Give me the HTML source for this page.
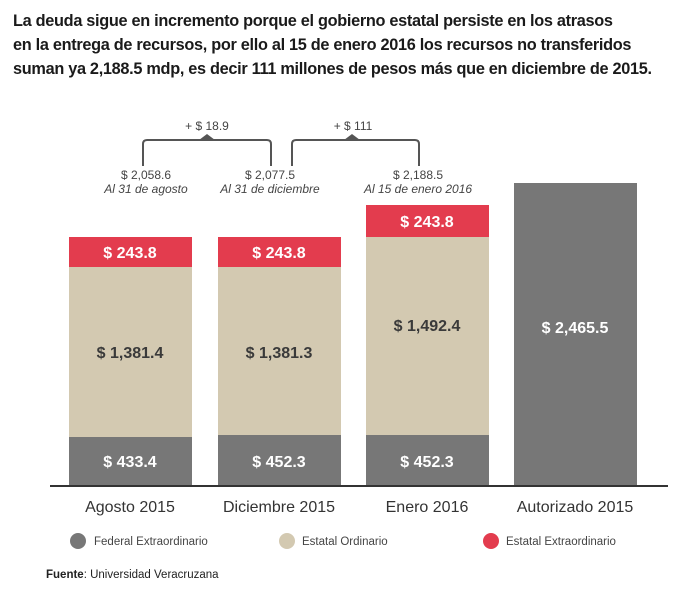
<!DOCTYPE html><html><head><meta charset="utf-8"><style>
body{margin:0;width:700px;height:596px;background:#fff;font-family:"Liberation Sans",sans-serif;overflow:hidden}
.t{position:absolute;left:13px;top:9px;font-size:16.3px;font-weight:bold;line-height:24px;color:#1a1a1a;letter-spacing:-0.3px}
</style></head><body>
<div class="t">La deuda sigue en incremento porque el gobierno estatal persiste en los atrasos<br>en la entrega de recursos, por ello al 15 de enero 2016 los recursos no transferidos<br>suman ya 2,188.5 mdp, es decir 111 millones de pesos más que en diciembre de 2015.</div>
<svg width="700" height="596" style="position:absolute;left:0;top:0" font-family="Liberation Sans, sans-serif">
<g fill="none" stroke="#555" stroke-width="2">
<path d="M143 166 V144 Q143 140 147 140 H267 Q271 140 271 144 V166"/>
<path d="M292 166 V144 Q292 140 296 140 H415 Q419 140 419 144 V166"/>
</g>
<path d="M199 140 L207 134 L215 140Z M344 140 L352 134 L360 140Z" fill="#555"/>
<g font-size="12" fill="#444" text-anchor="middle">
<text x="207" y="130">+ $ 18.9</text><text x="353" y="130">+ $ 111</text>
<text x="146" y="179">$ 2,058.6</text><text x="270" y="179">$ 2,077.5</text><text x="418" y="179">$ 2,188.5</text>
<g font-style="italic"><text x="146" y="193">Al 31 de agosto</text><text x="270" y="193">Al 31 de diciembre</text><text x="418" y="193">Al 15 de enero 2016</text></g>
</g>
<rect x="69" y="237" width="123" height="30" fill="#e33c4e"/><rect x="69" y="267" width="123" height="170" fill="#d3c9b1"/><rect x="69" y="437" width="123" height="49" fill="#777"/>
<rect x="218" y="237" width="123" height="30" fill="#e33c4e"/><rect x="218" y="267" width="123" height="168" fill="#d3c9b1"/><rect x="218" y="435" width="123" height="51" fill="#777"/>
<rect x="366" y="205" width="123" height="32" fill="#e33c4e"/><rect x="366" y="237" width="123" height="198" fill="#d3c9b1"/><rect x="366" y="435" width="123" height="51" fill="#777"/>
<rect x="514" y="183" width="123" height="303" fill="#777"/>
<line x1="50" y1="486" x2="668" y2="486" stroke="#333" stroke-width="2"/>
<g font-size="16" font-weight="bold" text-anchor="middle">
<g fill="#fff"><text x="130" y="258">$ 243.8</text><text x="279" y="258">$ 243.8</text><text x="427" y="227">$ 243.8</text>
<text x="130" y="467">$ 433.4</text><text x="279" y="467">$ 452.3</text><text x="427" y="467">$ 452.3</text><text x="575" y="333">$ 2,465.5</text></g>
<g fill="#3a3a3a"><text x="130" y="358">$ 1,381.4</text><text x="279" y="358">$ 1,381.3</text><text x="427" y="331">$ 1,492.4</text></g>
</g>
<g font-size="16" fill="#333" text-anchor="middle"><text x="130" y="512">Agosto 2015</text><text x="279" y="512">Diciembre 2015</text><text x="427" y="512">Enero 2016</text><text x="575" y="512">Autorizado 2015</text></g>
<circle cx="78" cy="541" r="8" fill="#777"/><circle cx="287" cy="541" r="8" fill="#d3c9b1"/><circle cx="491" cy="541" r="8" fill="#e33c4e"/>
<g font-size="11.5" fill="#444"><text x="94" y="545">Federal Extraordinario</text><text x="302" y="545">Estatal Ordinario</text><text x="506" y="545">Estatal Extraordinario</text></g>
<text x="46" y="578" font-size="11.5" fill="#222"><tspan font-weight="bold">Fuente</tspan>: Universidad Veracruzana</text>
</svg>
</body></html>
